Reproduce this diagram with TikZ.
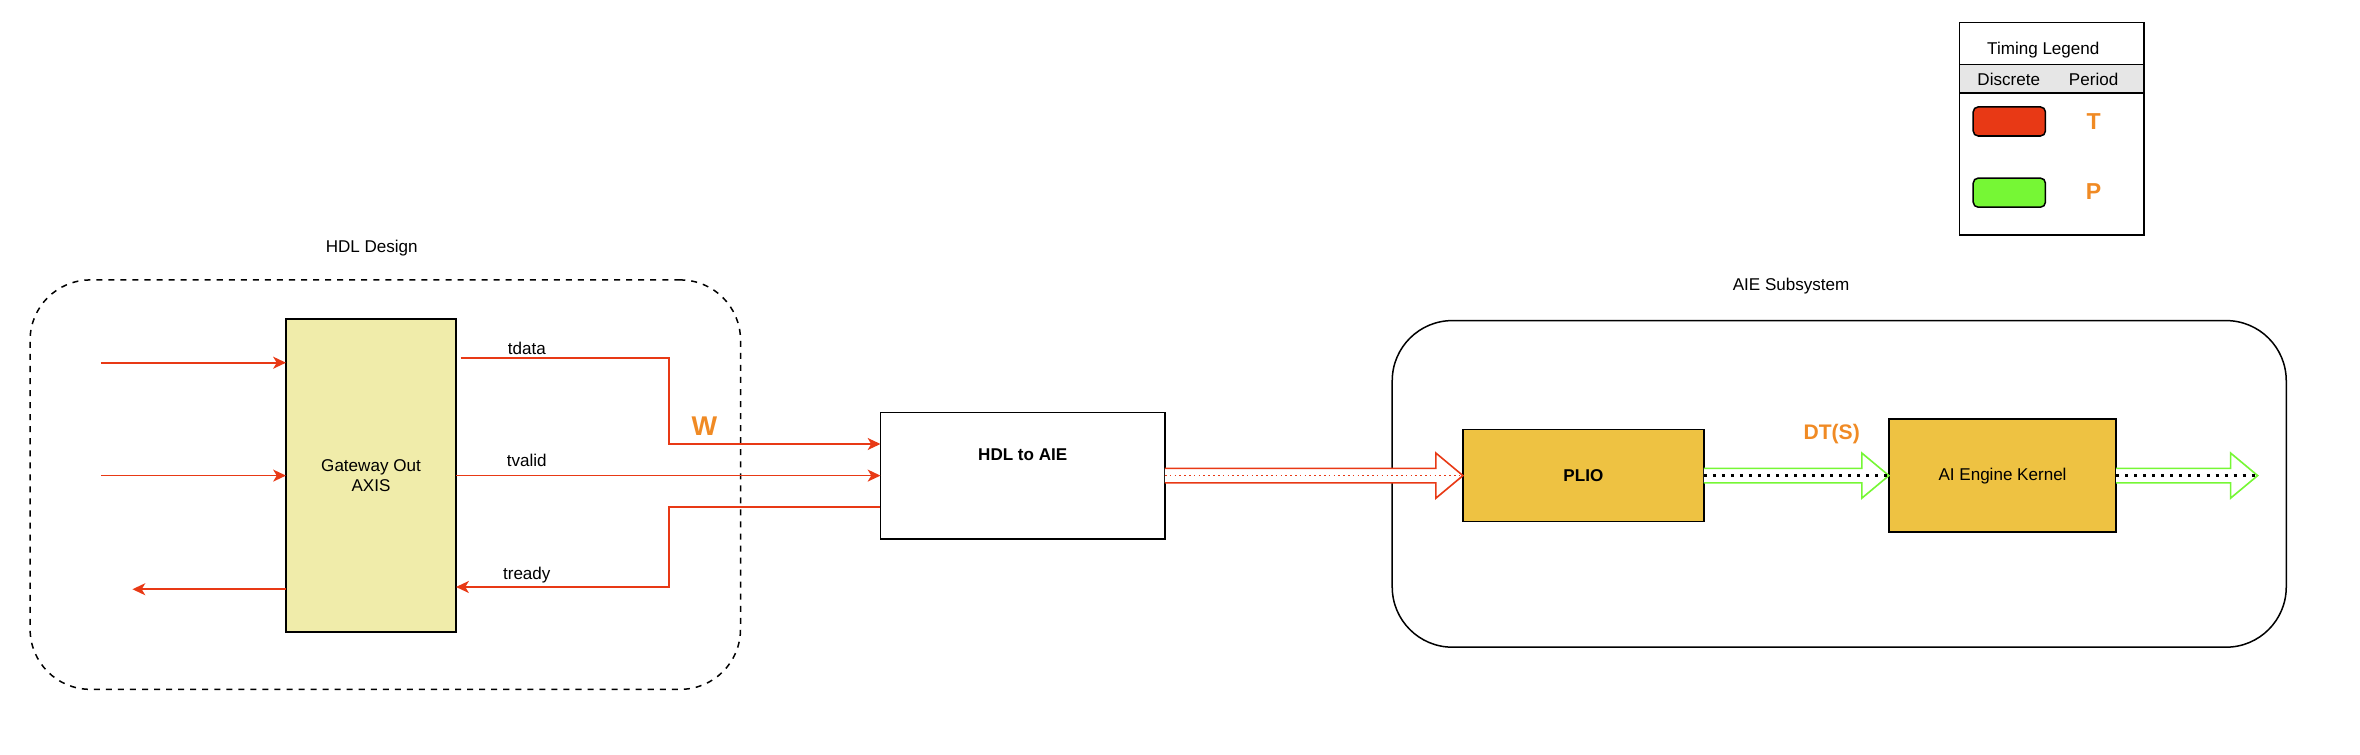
\documentclass[tikz,border=0pt]{standalone}
\usepackage{fontspec}
\setmainfont{Liberation Sans}
\usepackage{tikz}
\usetikzlibrary{arrows.meta, positioning, calc}

\definecolor{sigred}{RGB}{232,57,21}
\definecolor{siggreen}{RGB}{118,247,53}
\definecolor{sigorange}{RGB}{240,138,36}
\definecolor{gwfill}{RGB}{240,236,170}
\definecolor{aiefill}{RGB}{238,194,66}
\definecolor{hdrgray}{RGB}{230,230,230}

% hollow block arrow: from, to, colour
\newcommand{\fatarrow}[3]{%
  \draw[#3, line width=0.8pt, fill=white, line join=miter]
    ($(#1)+(0,-4.8)$) -- ($(#2)+(-18,-4.8)$) -- ($(#2)+(-18,-15)$) -- (#2)
    -- ($(#2)+(-18,15)$) -- ($(#2)+(-18,4.8)$) -- ($(#1)+(0,4.8)$);
}

\begin{document}
\begin{tikzpicture}[
    x=0.75pt, y=-0.75pt,
    every node/.style={inner sep=0pt, outer sep=0pt},
    txt/.style={font=\fontsize{8.5}{10}\selectfont},
    boldtxt/.style={font=\fontsize{8.5}{10}\selectfont\bfseries},
    rate/.style={font=\fontsize{10.5}{12}\selectfont\bfseries, text=sigorange},
    box/.style={rectangle, draw, line width=0.75pt, align=center, font=\fontsize{8.5}{10}\selectfont},
    group/.style={rectangle, draw, line width=0.75pt, rounded corners=30pt},
    key/.style={rectangle, draw, line width=0.75pt, rounded corners=2.5pt, minimum width=36pt, minimum height=14.5pt},
    sig/.style={sigred, line width=0.8pt},
    arrow/.style={sig, -{Stealth[length=6.4pt, width=6pt, inset=1.8pt]}}
]
\useasboundingbox (0,0) rectangle (1568,501.6);

% Groups
\node[group, dashed, minimum width=354pt, minimum height=204pt] (hdlgrp) at (256,322) {};
\node[txt] (hdllbl) at (247,165) {HDL Design};
\node[group, minimum width=445.5pt, minimum height=162.75pt] (aiegrp) at (1222,321.5) {};
\node[txt] (aielbl) at (1190,190) {AIE Subsystem};

% Blocks
\node[box, fill=gwfill, minimum width=84.75pt, minimum height=156pt] (gw) at (246.5,316) {Gateway Out\\AXIS};
\node[box, minimum width=141.75pt, minimum height=63pt] (hdl2aie) at (679.5,316) {};
\node[boldtxt] (hdl2aielbl) at ($(hdl2aie.north)+(0,28)$) {HDL to AIE};
\node[box, fill=aiefill, font=\fontsize{8.5}{10}\selectfont\bfseries, minimum width=120pt, minimum height=45.75pt] (plio) at (1052,316) {PLIO};
\node[box, fill=aiefill, minimum width=113.25pt, minimum height=56.25pt] (kernel) at (1330.5,316) {AI Engine Kernel};

% AXIS signals
\coordinate (in1) at (67,241);
\coordinate (in2) at (67,316);
\coordinate (out1) at (88,391.5);
\draw[arrow] (in1) -- (gw.west |- in1);
\draw[arrow] (in2) -- (gw.west);
\draw[arrow] (gw.west |- out1) -- (out1);
\draw[arrow] ($(gw.east)+(3,-78)$) -| ($(hdl2aie.west)+(-140.5,-21)$) -- ($(hdl2aie.west)+(0,-21)$);
\draw[arrow] (gw.east) -- (hdl2aie.west);
\draw[arrow] ($(hdl2aie.west)+(0,21)$) -| ($(gw.east)+(141.5,74)$) -- ($(gw.east)+(0,74)$);
\node[txt] (tdata) at (350,231.5) {tdata};
\node[txt] (tvalid) at (350,306) {tvalid};
\node[txt] (tready) at (350,382) {tready};
\node[rate, font=\fontsize{13.5}{15}\selectfont\bfseries] (wlbl) at (468,283) {W};

% Streams
\coordinate (kout) at (1500,316);
\fatarrow{hdl2aie.east}{plio.west}{sigred}
\draw[sigred, line width=0.6pt, dash pattern=on 0.8pt off 1.6pt] (hdl2aie.east) -- (plio.west);
\fatarrow{plio.east}{kernel.west}{siggreen}
\draw[line width=1.35pt, dash pattern=on 1.5pt off 3pt] (plio.east) -- (kernel.west);
\fatarrow{kernel.east}{kout}{siggreen}
\draw[line width=1.35pt, dash pattern=on 1.5pt off 3pt] (kernel.east) -- (kout);
\node[rate] (dts) at (1217,288.4) {DT(S)};

% Timing legend
\node[box, minimum width=92pt, minimum height=105.9pt] (legend) at (1363.3,85.4) {};
\node[box, fill=hdrgray, minimum width=92pt, minimum height=14.3pt] (hdr) at (1363.3,52.25) {};
\node[txt] (legtitle) at (1357.6,33) {Timing Legend};
\node[txt] (discrete) at (1334.6,52.6) {Discrete};
\node[txt] (period) at (1391,52.6) {Period};
\node[key, fill=sigred] (redkey) at (1335,80.7) {};
\node[key, fill=siggreen] (greenkey) at (1335,128) {};
\node[rate, font=\fontsize{11.5}{13}\selectfont\bfseries] (tkey) at (1391,81) {T};
\node[rate, font=\fontsize{11.5}{13}\selectfont\bfseries] (pkey) at (1391,127.4) {P};
\end{tikzpicture}
\end{document}
